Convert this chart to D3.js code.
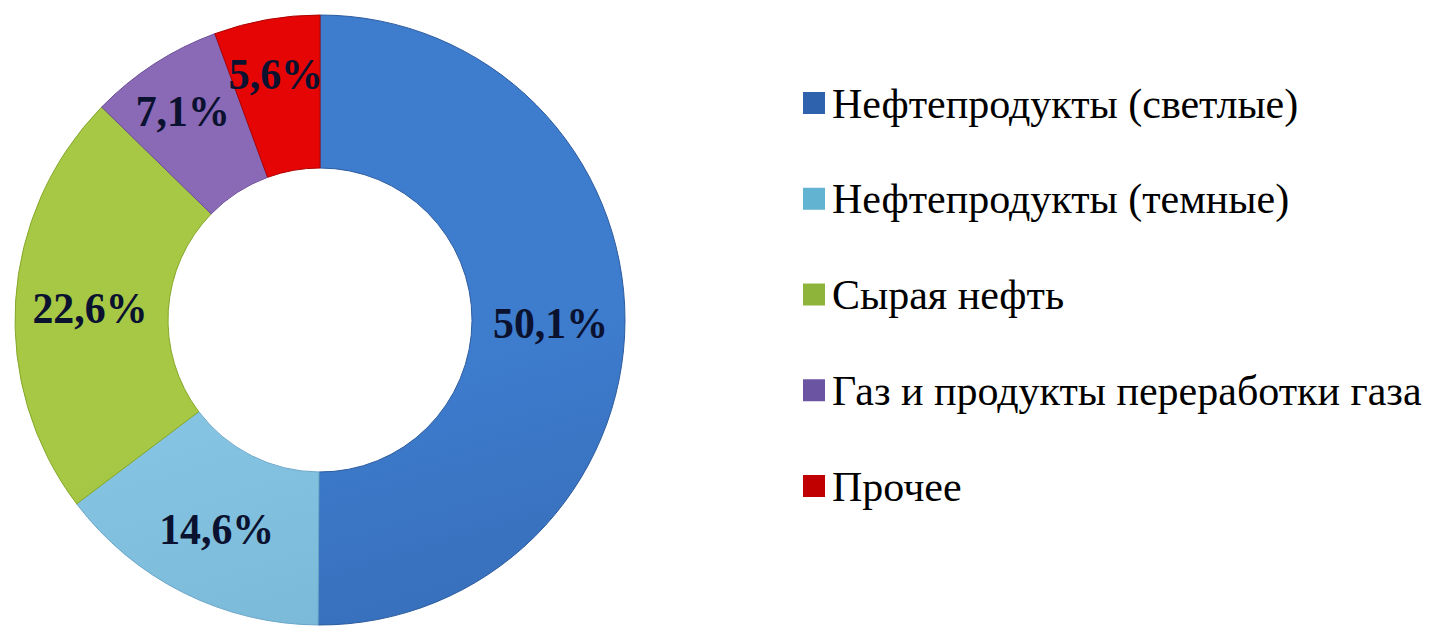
<!DOCTYPE html>
<html>
<head>
<meta charset="utf-8">
<script src="https://cdn.jsdelivr.net/npm/d3@7"></script>
<style>
  html, body { margin: 0; padding: 0; background: #ffffff; }
  svg { display: block; }
</style>
</head>
<body>
<svg id="chart" width="1429" height="633"></svg>
<script>
// Structure of cargo shipments, share in percent
const categories = [
  "Нефтепродукты (светлые)",
  "Нефтепродукты (темные)",
  "Сырая нефть",
  "Газ и продукты переработки газа",
  "Прочее"
];
const shares = [50.1, 14.6, 22.6, 7.1, 5.6];
const valueLabels = ["50,1%", "14,6%", "22,6%", "7,1%", "5,6%"];

// Slice fill tones: light (top) and dark (bottom), and legend swatch colour
const lightTones = ["#3e7cce", "#84c4e2", "#a6c845", "#8a69b6", "#e60505"];
const darkTones  = ["#2d5c9e", "#6aa6c8", "#86a82a", "#6b4d96", "#ad0000"];
const swatchTones = ["#2f62ad", "#62b2d2", "#8fb43a", "#6b54a2", "#c00000"];

const svg = d3.select("#chart");
const cx = 320, cy = 320, outerR = 305, innerR = 152;

const data = categories.map((c, i) => ({ name: c, value: shares[i], label: valueLabels[i], i }));

// Legend: category names, then swatches
const legendX = 803;
const rowY = d3.scalePoint().domain(categories).range([103, 486]);
data.forEach(d => {
  svg.append("text")
    .attr("x", legendX + 29)
    .attr("y", rowY(d.name))
    .attr("dy", "0.35em")
    .attr("font-family", "Liberation Serif")
    .attr("font-size", 42)
    .text(d.name);
});
data.forEach(d => {
  svg.append("rect")
    .attr("x", legendX).attr("y", rowY(d.name) - 11)
    .attr("width", 22).attr("height", 22)
    .attr("fill", swatchTones[d.i]);
});

const defs = svg.append("defs");
data.forEach(d => {
  const g = defs.append("linearGradient")
    .attr("id", "grad" + d.i)
    .attr("gradientUnits", "userSpaceOnUse")
    .attr("x1", cx - outerR * 0.4).attr("y1", cy - outerR)
    .attr("x2", cx + outerR * 0.2).attr("y2", cy + outerR);
  g.append("stop").attr("offset", "0%").attr("stop-color", lightTones[d.i]);
  g.append("stop").attr("offset", "100%").attr("stop-color", darkTones[d.i]);
});

const pie = d3.pie().value(d => d.value).sort(null);
const arc = d3.arc().innerRadius(innerR).outerRadius(outerR);

const arcs = pie(data);
const g = svg.append("g").attr("transform", `translate(${cx},${cy})`);

g.selectAll("path.slice")
  .data(arcs)
  .join("path")
  .attr("class", "slice")
  .attr("d", arc)
  .attr("fill", d => `url(#grad${d.data.i})`)
  .attr("stroke", d => darkTones[d.data.i])
  .attr("stroke-width", 1);

// Value labels near the middle of each ring segment
const midR = (innerR + outerR) / 2 + 2;
g.selectAll("text.val")
  .data(arcs)
  .join("text")
  .attr("class", "val")
  .attr("transform", d => {
    const a = (d.startAngle + d.endAngle) / 2;
    let r = midR;
    if (d.endAngle - d.startAngle < 0.5) r = midR + 22;
    return `translate(${Math.sin(a) * r},${-Math.cos(a) * r + 2}) scale(0.93,1)`;
  })
  .attr("text-anchor", "middle")
  .attr("dy", "0.35em")
  .attr("font-family", "Liberation Serif")
  .attr("font-weight", "bold")
  .attr("font-size", 45)
  .attr("fill", "#0b1230")
  .text(d => d.data.label);
</script>
</body>
</html>
